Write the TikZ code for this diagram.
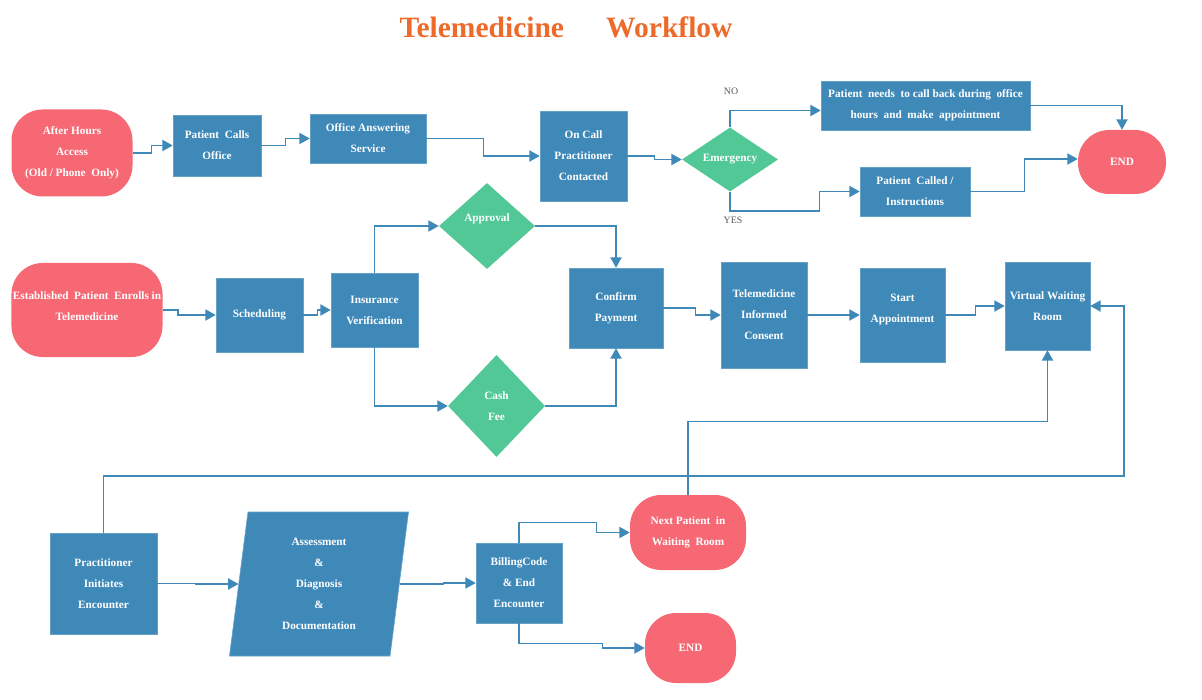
\documentclass[tikz,border=0pt]{standalone}
\usepackage{fontspec}
\setmainfont{Liberation Serif}
\usetikzlibrary{arrows.meta,shapes.geometric}

\definecolor{boxblue}{RGB}{63,137,185}
\definecolor{termred}{RGB}{245,104,116}
\definecolor{gatepeen}{RGB}{82,200,150}
\definecolor{titleorange}{RGB}{238,106,42}

\begin{document}
\begin{tikzpicture}[
    txt/.style={text=white,font=\bfseries\fontsize{8}{15}\selectfont,align=center,inner sep=1pt},
    box/.style={txt,fill=boxblue,draw=boxblue!80!white,line width=0.4pt},
    term/.style={txt,fill=termred,rounded corners=0.78cm},
    gate/.style={txt,fill=gatepeen,diamond,inner sep=0pt},
    flow/.style={draw=boxblue,line width=1pt,-{Triangle[length=2.6mm,width=2.8mm]}},
    branch/.style={text=black!65,font=\fontsize{7}{8}\selectfont}]
    \useasboundingbox (0,0) rectangle (30.05,-17.5);
    \node [text=titleorange,font=\bfseries\fontsize{21}{24}\selectfont] (title) at (14.15,-0.675) {Telemedicine\hspace{30pt}Workflow};

    % after hours line
    \node [term,minimum width=3.025cm,minimum height=2.175cm] (hours) at (1.8,-3.825) {After Hours\\Access\\(Old / Phone~ Only)};
    \node [box,minimum width=2.2cm,minimum height=1.525cm] (calls) at (5.425,-3.6375) {Patient~ Calls\\Office};
    \node [box,minimum width=2.9cm,minimum height=1.225cm] (service) at (9.2,-3.4625) {Office Answering\\Service};
    \node [box,minimum width=2.175cm,minimum height=2.25cm] (oncall) at (14.5875,-3.9) {On Call\\Practitioner\\Contacted};
    \node [gate,minimum width=2.4cm,minimum height=1.425cm] (emerg) at (18.25,-3.9875) {Emergency};
    \node [branch] (no) at (18.275,-2.275) {NO};
    \node [branch] (yes) at (18.325,-5.5) {YES};
    \node [box,minimum width=5.225cm,minimum height=1.225cm] (callback) at (23.1375,-2.6375) {Patient~ needs~ to call back during~ office\\hours~ and~ make~ appointment};
    \node [box,minimum width=2.75cm,minimum height=1.225cm] (called) at (22.875,-4.7875) {Patient~ Called /\\Instructions};
    \node [term,minimum width=2.2cm,minimum height=1.6cm] (endA) at (28.05,-4.05) {END};

    \draw [flow] (hours.east) -- ++(0.475,0) |- (calls.west);
    \draw [flow] (calls.east) -- ++(0.6,0) |- (service.west);
    \draw [flow] (service.east) -- ++(1.425,0) |- (oncall.west);
    \draw [flow] (oncall.east) -- ++(0.675,0) |- (emerg.west);
    \draw [flow] (emerg.north) |- ([yshift=-0.125cm]callback.west);
    \draw [flow] (emerg.south) -- ++(0,-0.475) -| ([xshift=-1cm]called.west) -- (called.west);
    \draw [flow] (callback.east) -| (endA.north);
    \draw [flow] (called.east) -- ++(1.35,0) |- ([yshift=0.075cm]endA.west);

    % established patient line
    \node [term,minimum width=3.75cm,minimum height=2.35cm,text depth=6pt] (enrolls) at (2.175,-7.75) {Established~ Patient~ Enrolls in\\Telemedicine};
    \node [box,minimum width=2.175cm,minimum height=1.85cm] (sched) at (6.4875,-7.875) {Scheduling};
    \node [box,minimum width=2.175cm,minimum height=1.85cm] (insur) at (9.3625,-7.75) {Insurance\\Verification};
    \node [gate,minimum width=2.4cm,minimum height=2.15cm,text depth=12pt] (approv) at (12.175,-5.65) {Approval};
    \node [gate,minimum width=2.425cm,minimum height=2.55cm] (cash) at (12.4125,-10.15) {Cash\\Fee};
    \node [box,minimum width=2.35cm,minimum height=2cm] (payment) at (15.4,-7.7) {Confirm\\Payment};
    \node [box,minimum width=2.15cm,minimum height=2.65cm] (consent) at (19.1,-7.875) {Telemedicine\\Informed\\Consent};
    \node [box,minimum width=2.125cm,minimum height=2.35cm,text depth=10pt] (start) at (22.5625,-7.875) {Start\\Appointment};
    \node [box,minimum width=2.125cm,minimum height=2.2cm] (waiting) at (26.1875,-7.65) {Virtual Waiting\\Room};

    \draw [flow] (enrolls.east) -- ++(0.375,0) |- (sched.west);
    \draw [flow] (sched.east) -- ++(0.35,0) |- (insur.west);
    \draw [flow] (insur.north) |- (approv.west);
    \draw [flow] (insur.south) |- (cash.west);
    \draw [flow] (approv.east) -| (payment.north);
    \draw [flow] (cash.east) -| (payment.south);
    \draw [flow] (payment.east) -- ++(0.8,0) |- (consent.west);
    \draw [flow] (consent.east) -- ++(0.675,0) |- (start.west);
    \draw [flow] (start.east) -- ++(0.75,0) |- (waiting.west);

    % encounter line
    \node [box,minimum width=2.675cm,minimum height=2.525cm] (initiates) at (2.5875,-14.5875) {Practitioner\\Initiates\\Encounter};
    \node [box,trapezium,trapezium left angle=84,trapezium right angle=96,trapezium stretches=true,
           minimum width=4.5cm,minimum height=3.6cm] (assess) at (7.975,-14.6) {Assessment\\\&\\Diagnosis\\\&\\Documentation};
    \node [box,minimum width=2.15cm,minimum height=2cm] (billing) at (12.975,-14.575) {BillingCode\\\& End\\Encounter};
    \node [term,minimum width=2.9cm,minimum height=1.875cm] (nextpat) at (17.2,-13.3125) {Next Patient~ in\\Waiting~ Room};
    \node [term,minimum width=2.275cm,minimum height=1.75cm] (endB) at (17.2625,-16.2) {END};
    \coordinate (loopR) at (28.1,-11.9);

    \draw [flow] (initiates.east) -- ++(0.95,0) |- (assess.west);
    \draw [flow] (assess.east) -- ++(1.1,0) |- (billing.west);
    \draw [flow] (billing.north) -- ++(0,0.5) -| ([xshift=-0.825cm]nextpat.west) -- (nextpat.west);
    \draw [flow] (billing.south) -- ++(0,-0.5) -| ([xshift=-1.05cm]endB.west) -- (endB.west);
    \draw [flow] (initiates.north) |- (loopR) |- (waiting.east);
    \draw [flow] (nextpat.north) -- ++(0,1.825) -| (waiting.south);
\end{tikzpicture}
\end{document}
